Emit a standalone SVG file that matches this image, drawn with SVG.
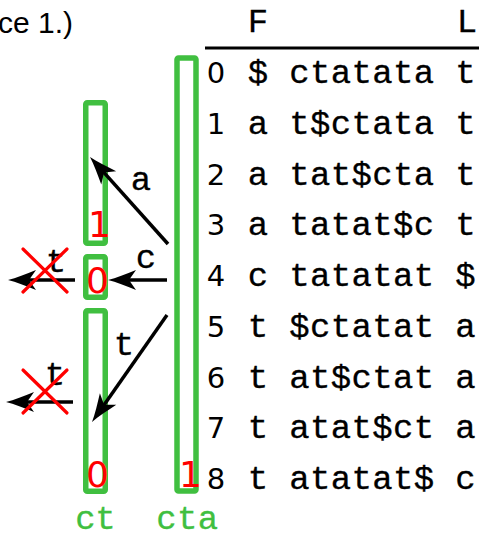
<svg xmlns="http://www.w3.org/2000/svg" width="479" height="534" viewBox="0 0 479 534">
  <style>
    .tt { font-family: "Liberation Mono", "DejaVu Sans Mono", monospace; font-size: 34px; fill: #000; stroke: #000; stroke-width: 0.3px; text-anchor: middle; }
    .idx { font-family: "DejaVu Sans", "Liberation Sans", sans-serif; font-size: 29px; fill: #000; text-anchor: middle; }
    .cnt { font-family: "DejaVu Sans", "Liberation Sans", sans-serif; font-size: 36px; fill: #ff0000; }
    .box { fill: none; stroke: #40bf40; stroke-width: 5.5; }
    .glbl { font-family: "Liberation Mono", "DejaVu Sans Mono", monospace; font-size: 34px; fill: #40bf40; stroke: #40bf40; stroke-width: 0.3px; text-anchor: middle; }
    .edge { stroke: #000; stroke-width: 3.5; fill: none; marker-end: url(#head); }
    .cross { stroke: #ff0000; stroke-width: 3.2; stroke-linecap: round; }
  </style>
  <defs>
    <marker id="head" markerUnits="userSpaceOnUse" viewBox="-30 -12 32 24" refX="-16" refY="0" markerWidth="32" markerHeight="24" orient="auto" overflow="visible">
      <path d="M0,0 C-8,-2 -18,-6 -28,-10 L-21,0 L-28,10 C-18,6 -8,2 0,0 Z" fill="#000"/>
    </marker>
  </defs>

  <!-- caption fragment -->
  <text x="73" y="33" text-anchor="end" font-family="Liberation Sans, Arial, sans-serif" font-size="30" fill="#000">ace 1.)</text>

  <!-- BWT matrix: characters sit in fixed 20.75px cells -->
  <g id="matrix">
    <text class="tt" x="258" y="32">F</text>
    <text class="tt" x="467" y="32">L</text>
    <line x1="205" y1="48" x2="479" y2="48" stroke="#000" stroke-width="3"/>
    <g class="idx">
      <text x="216" y="83">0</text>
      <text x="216" y="133.75">1</text>
      <text x="216" y="184.5">2</text>
      <text x="216" y="235.25">3</text>
      <text x="216" y="286">4</text>
      <text x="216" y="336.75">5</text>
      <text x="216" y="387.5">6</text>
      <text x="216" y="438.25">7</text>
      <text x="216" y="489">8</text>
    </g>
    <g class="tt">
      <text x="258" y="83">$</text>
      <text x="258" y="133.75">a</text>
      <text x="258" y="184.5">a</text>
      <text x="258" y="235.25">a</text>
      <text x="258" y="286">c</text>
      <text x="258" y="336.75">t</text>
      <text x="258" y="387.5">t</text>
      <text x="258" y="438.25">t</text>
      <text x="258" y="489">t</text>
    </g>
    <g class="tt">
      <text x="299.5 320.25 341 361.75 382.5 403.25 424" y="83">ctatata</text>
      <text x="299.5 320.25 341 361.75 382.5 403.25 424" y="133.75">t$ctata</text>
      <text x="299.5 320.25 341 361.75 382.5 403.25 424" y="184.5">tat$cta</text>
      <text x="299.5 320.25 341 361.75 382.5 403.25 424" y="235.25">tatat$c</text>
      <text x="299.5 320.25 341 361.75 382.5 403.25 424" y="286">tatatat</text>
      <text x="299.5 320.25 341 361.75 382.5 403.25 424" y="336.75">$ctatat</text>
      <text x="299.5 320.25 341 361.75 382.5 403.25 424" y="387.5">at$ctat</text>
      <text x="299.5 320.25 341 361.75 382.5 403.25 424" y="438.25">atat$ct</text>
      <text x="299.5 320.25 341 361.75 382.5 403.25 424" y="489">atatat$</text>
    </g>
    <g class="tt">
      <text x="465.5" y="83">t</text>
      <text x="465.5" y="133.75">t</text>
      <text x="465.5" y="184.5">t</text>
      <text x="465.5" y="235.25">t</text>
      <text x="465.5" y="286">$</text>
      <text x="465.5" y="336.75">a</text>
      <text x="465.5" y="387.5">a</text>
      <text x="465.5" y="438.25">a</text>
      <text x="465.5" y="489">c</text>
    </g>
  </g>

  <!-- range for "cta" -->
  <g id="range-cta">
    <rect class="box" x="177" y="58" width="19" height="433" rx="1.5"/>
    <text class="cnt" x="179" y="487">1</text>
    <text class="glbl" x="166.5 187.25 208" y="529">cta</text>
  </g>

  <!-- ranges for "ct" -->
  <g id="range-ct-a">
    <rect class="box" x="85.75" y="102.75" width="19.5" height="140.5" rx="1.5"/>
    <text class="cnt" x="88" y="237">1</text>
  </g>
  <g id="range-ct-c">
    <rect class="box" x="85.75" y="256.75" width="19.5" height="40.5" rx="1.5"/>
    <text class="cnt" x="86" y="293">0</text>
  </g>
  <g id="range-ct-t">
    <rect class="box" x="85.75" y="310.75" width="19.5" height="180.5" rx="1.5"/>
    <text class="cnt" x="86" y="487">0</text>
    <text class="glbl" x="85.5 105.5" y="529">ct</text>
  </g>

  <!-- backward-search steps -->
  <g id="connectors">
    <line class="edge" x1="168" y1="244" x2="100.7" y2="168.9"/>
    <text class="tt" x="141" y="190">a</text>
    <line class="edge" x1="167" y1="280" x2="124" y2="280"/>
    <text class="tt" x="146" y="268">c</text>
    <line class="edge" x1="167" y1="315" x2="101.2" y2="408.9"/>
    <text class="tt" x="124" y="355">t</text>

    <line class="edge" x1="75" y1="280" x2="24" y2="280"/>
    <text class="tt" x="56" y="272">t</text>
    <line class="cross" x1="23" y1="249" x2="67" y2="292"/>
    <line class="cross" x1="67" y1="249" x2="23" y2="292"/>

    <line class="edge" x1="73" y1="402" x2="22" y2="402"/>
    <text class="tt" x="55" y="385">t</text>
    <line class="cross" x1="23" y1="370" x2="67" y2="413"/>
    <line class="cross" x1="67" y1="370" x2="23" y2="413"/>
  </g>
</svg>
